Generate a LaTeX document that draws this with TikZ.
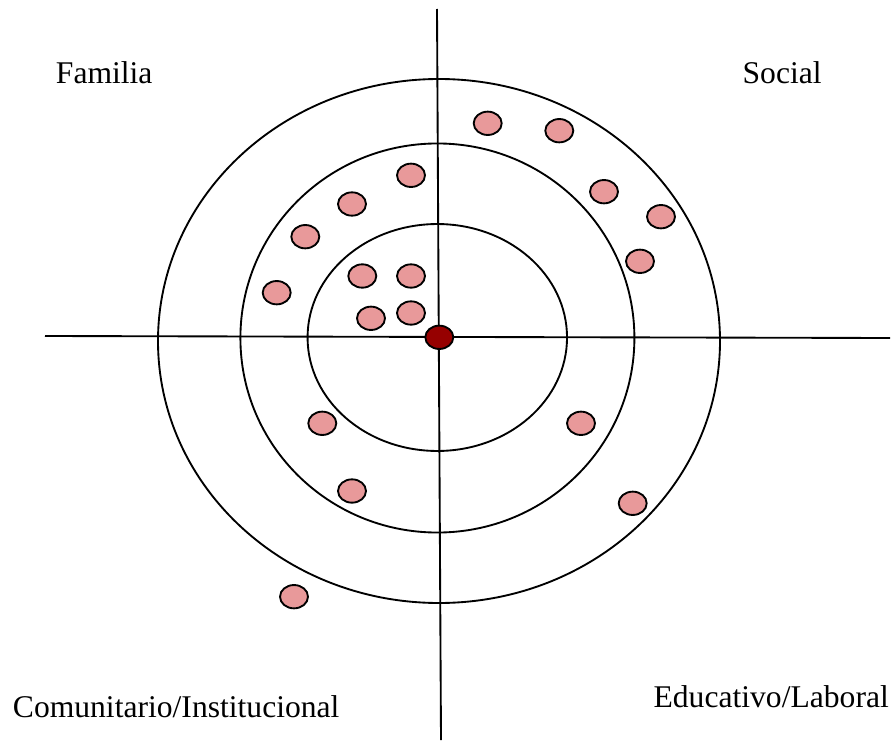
\documentclass[tikz,border=0pt]{standalone}
\usepackage{fontspec}
\setmainfont{Liberation Serif}
\usepackage{tikz}
\usetikzlibrary{shapes.geometric}

\definecolor{dotpink}{RGB}{232,153,154}
\definecolor{coredark}{RGB}{150,0,0}

\begin{document}
\begin{tikzpicture}
	[x=0.75pt,y=-0.75pt,line width=1.4pt,
		dot node/.style={ellipse,draw,fill=dotpink,minimum width=21pt,minimum height=17.5pt,inner sep=0pt},
		core node/.style={ellipse,draw,fill=coredark,minimum width=21pt,minimum height=17.5pt,inner sep=0pt},
		area node/.style={anchor=base west,inner sep=0pt,font=\fontsize{23.7}{28}\selectfont}]

	\useasboundingbox (0,0) rectangle (893,742);

	\coordinate (N) at (437,9);
	\coordinate (S) at (441,740);
	\coordinate (W) at (45,336);
	\coordinate (E) at (890,338);

	\draw (N) -- (S);
	\draw (W) -- (E);

	\draw (439,341) ellipse [x radius=210.75pt, y radius=196.5pt];
	\draw (437.4,338) ellipse [x radius=147.75pt, y radius=145.9pt];
	\draw (437.3,337.5) ellipse [x radius=97.3pt, y radius=85.1pt];

	\node[area node] (fam) at (55,83.3) {Familia};
	\node[area node] (soc) at (741.7,83.3) {Social};
	\node[area node] (com) at (12,717) {Comunitario/Institucional};
	\node[area node] (edu) at (652.7,707) {Educativo/Laboral};

	\node[dot node] (F1) at (411,175.3) {};
	\node[dot node] (F2) at (352,204) {};
	\node[dot node] (F3) at (305.3,236.7) {};
	\node[dot node] (F4) at (276.7,292.7) {};
	\node[dot node] (F5) at (362.3,276) {};
	\node[dot node] (F6) at (411,276) {};
	\node[dot node] (F7) at (371,318.3) {};
	\node[dot node] (F8) at (411,313) {};

	\node[dot node] (S1) at (487.7,123.3) {};
	\node[dot node] (S2) at (559.3,130.7) {};
	\node[dot node] (S3) at (604,191.7) {};
	\node[dot node] (S4) at (661,216.7) {};
	\node[dot node] (S5) at (640,261.3) {};

	\node[dot node] (C1) at (322.3,423.3) {};
	\node[dot node] (C2) at (352,491) {};
	\node[dot node] (C3) at (294,596.7) {};

	\node[dot node] (E1) at (581,423.3) {};
	\node[dot node] (E2) at (632.7,503.3) {};

	\node[core node] (O) at (439.3,337.3) {};

\end{tikzpicture}
\end{document}
